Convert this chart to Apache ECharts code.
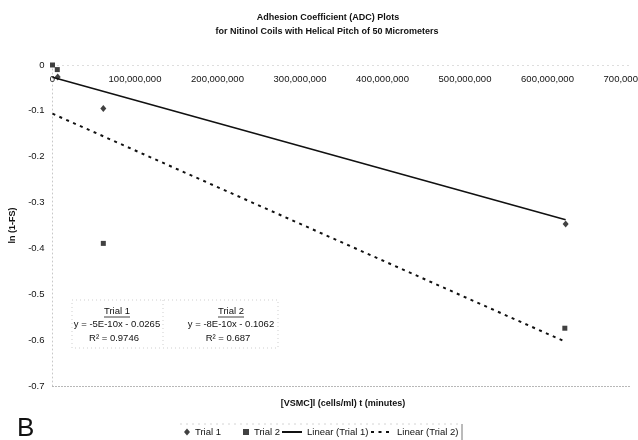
<!DOCTYPE html>
<html>
<head>
<meta charset="utf-8">
<script src="https://cdn.jsdelivr.net/npm/echarts@6/dist/echarts.min.js"></script>
<style>
  html, body { margin: 0; padding: 0; background: #fff; }
  #chart { width: 638px; height: 440px; }
</style>
</head>
<body>
<div id="chart"></div>
<script>
// Measured points: x = [VSMC]l·t (cells/ml·min), y = ln(1-FS)
const trial1X = [6.3e6, 61.6e6, 622e6];
const trial1Y = [-0.026, -0.095, -0.347];
const trial2X = [0, 5.8e6, 61.6e6, 621e6];
const trial2Y = [0, -0.010, -0.389, -0.574];

// Linear fit coefficients (slope, intercept) and R² per trial
const trendSlope = [-5e-10, -8e-10];
const trendIntercept = [-0.0265, -0.1062];
const trendR2 = [0.9746, 0.687];
const trendNames = ['Trial 1', 'Trial 2'];

const xTicks = { min: 0, max: 700e6, step: 100e6 };
const yTicks = { min: -0.7, max: 0, step: 0.1 };

const FONT = '"Liberation Sans", Arial, Helvetica, sans-serif';

function pairs(xs, ys) { return xs.map((x, i) => [x, ys[i]]); }
function fitLine(k, xs) {
  const xEnd = Math.max.apply(null, xs);
  return [[0, trendIntercept[k]], [xEnd, trendSlope[k] * xEnd + trendIntercept[k]]];
}
function eqText(k) {
  const m = trendSlope[k].toExponential(0).replace('e', 'E');
  const b = trendIntercept[k];
  return 'y = ' + m + 'x ' + (b < 0 ? '- ' : '+ ') + Math.abs(b).toFixed(4);
}
function groupDigits(v) {
  return String(Math.round(v)).replace(/\B(?=(\d{3})+(?!\d))/g, ',');
}

const chart = echarts.init(document.getElementById('chart'), null, { renderer: 'canvas' });

const legendBase = {
  top: 427, itemHeight: 7, padding: 0,
  textStyle: { fontFamily: FONT, fontSize: 9.5, color: '#111' },
  selectedMode: false
};

const eqBlocks = [];
[117, 231].forEach((cx, k) => {
  eqBlocks.push(
    { type: 'text', x: cx, y: 311, style: { text: trendNames[k], font: '9.5px ' + FONT, fill: '#111', align: 'center', verticalAlign: 'middle' } },
    { type: 'line', shape: { x1: cx - 13, y1: 317, x2: cx + 13, y2: 317 }, style: { stroke: '#111', lineWidth: 0.8 } },
    { type: 'text', x: cx, y: 324.5, style: { text: eqText(k), font: '9.5px ' + FONT, fill: '#111', align: 'center', verticalAlign: 'middle' } },
    { type: 'text', x: cx - 3, y: 338.5, style: { text: 'R\u00B2 = ' + trendR2[k], font: '9.5px ' + FONT, fill: '#111', align: 'center', verticalAlign: 'middle' } }
  );
});

chart.setOption({
  animation: false,
  backgroundColor: '#fff',
  grid: { left: 52.5, right: 8, top: 65, bottom: 54, containLabel: false, outerBoundsMode: 'none' },
  xAxis: [{
    // value axis drawn along y = 0 (top edge), labels hanging below it
    type: 'value', min: xTicks.min, max: xTicks.max, interval: xTicks.step,
    position: 'top',
    axisLine: { show: true, onZero: false, lineStyle: { color: '#dadada', type: [1, 4], width: 1 } },
    axisTick: { show: false },
    splitLine: { show: false },
    axisLabel: { inside: true, fontFamily: FONT, fontSize: 9.5, color: '#111', margin: 9, formatter: groupDigits, showMaxLabel: true, hideOverlap: false }
  }, {
    // plain frame line along the bottom edge
    type: 'value', min: xTicks.min, max: xTicks.max, interval: xTicks.step,
    position: 'bottom',
    axisLine: { show: true, onZero: false, lineStyle: { color: '#b0b0b0', type: [1, 2], width: 1 } },
    axisTick: { show: false }, axisLabel: { show: false }, splitLine: { show: false }
  }],
  yAxis: {
    type: 'value', min: yTicks.min, max: yTicks.max, interval: yTicks.step,
    name: 'ln (1-FS)', nameLocation: 'middle', nameGap: 34,
    nameTextStyle: { fontFamily: FONT, fontSize: 9, fontWeight: 'bold', color: '#111' },
    axisLine: { show: true, onZero: false, lineStyle: { color: '#c8c8c8', type: [1, 3], width: 1 } },
    axisTick: { show: false },
    splitLine: { show: false },
    axisLabel: {
      fontFamily: FONT, fontSize: 9.5, color: '#111', margin: 8,
      formatter: v => (Math.abs(v) < 1e-9 ? '0' : v.toFixed(1))
    }
  },
  legend: [
    Object.assign({}, legendBase, { left: 184, itemWidth: 6, data: [{ name: 'Trial 1', icon: 'diamond' }] }),
    Object.assign({}, legendBase, { left: 243, itemWidth: 6, itemHeight: 6, data: [{ name: 'Trial 2', icon: 'rect' }] }),
    Object.assign({}, legendBase, { left: 281, itemWidth: 20, itemStyle: { opacity: 0 }, data: ['Linear (Trial 1)'] }),
    Object.assign({}, legendBase, { left: 370, itemWidth: 21, itemStyle: { opacity: 0 }, data: ['Linear (Trial 2)'] })
  ],
  graphic: [
    { type: 'text', x: 328, y: 18, style: { text: 'Adhesion Coefficient (ADC) Plots', font: 'bold 9px ' + FONT, fill: '#111', align: 'center', verticalAlign: 'middle' } },
    { type: 'text', x: 327, y: 32, style: { text: 'for Nitinol Coils with Helical Pitch of 50 Micrometers', font: 'bold 9px ' + FONT, fill: '#111', align: 'center', verticalAlign: 'middle' } },
    { type: 'text', x: 343, y: 404, style: { text: '[VSMC]l (cells/ml) t (minutes)', font: 'bold 9px ' + FONT, fill: '#111', align: 'center', verticalAlign: 'middle' } },
    { type: 'text', x: 17, y: 429, style: { text: 'B', font: '26px ' + FONT, fill: '#111', align: 'left', verticalAlign: 'middle' } },
    { type: 'line', shape: { x1: 462, y1: 424, x2: 462, y2: 440 }, style: { stroke: '#777', lineWidth: 1 } },
    { type: 'line', shape: { x1: 180, y1: 424, x2: 462, y2: 424 }, style: { stroke: '#d4d4d4', lineWidth: 1, lineDash: [2, 4] } },
    { type: 'rect', shape: { x: 72, y: 300, width: 206, height: 48 }, style: { fill: 'none', stroke: '#cfcfcf', lineWidth: 1, lineDash: [1, 3] } },
    { type: 'line', shape: { x1: 163, y1: 300, x2: 163, y2: 348 }, style: { stroke: '#cfcfcf', lineWidth: 1, lineDash: [1, 3] } }
  ].concat(eqBlocks),
  series: [
    {
      name: 'Trial 1', type: 'scatter', symbol: 'diamond', symbolSize: [6, 7], clip: false,
      itemStyle: { color: '#111' }, data: pairs(trial1X, trial1Y), z: 5
    },
    {
      name: 'Trial 2', type: 'scatter', symbol: 'rect', symbolSize: 5, clip: false,
      itemStyle: { color: '#111' }, data: pairs(trial2X, trial2Y), z: 5
    },
    {
      name: 'Linear (Trial 1)', type: 'line', symbol: 'none', showSymbol: false,
      lineStyle: { color: '#111', width: 1.6 }, itemStyle: { color: '#111' },
      data: fitLine(0, trial1X)
    },
    {
      name: 'Linear (Trial 2)', type: 'line', symbol: 'none', showSymbol: false,
      lineStyle: { color: '#111', width: 2, type: [3, 4.5] }, itemStyle: { color: '#111' },
      data: fitLine(1, trial2X)
    }
  ]
});
</script>
</body>
</html>
